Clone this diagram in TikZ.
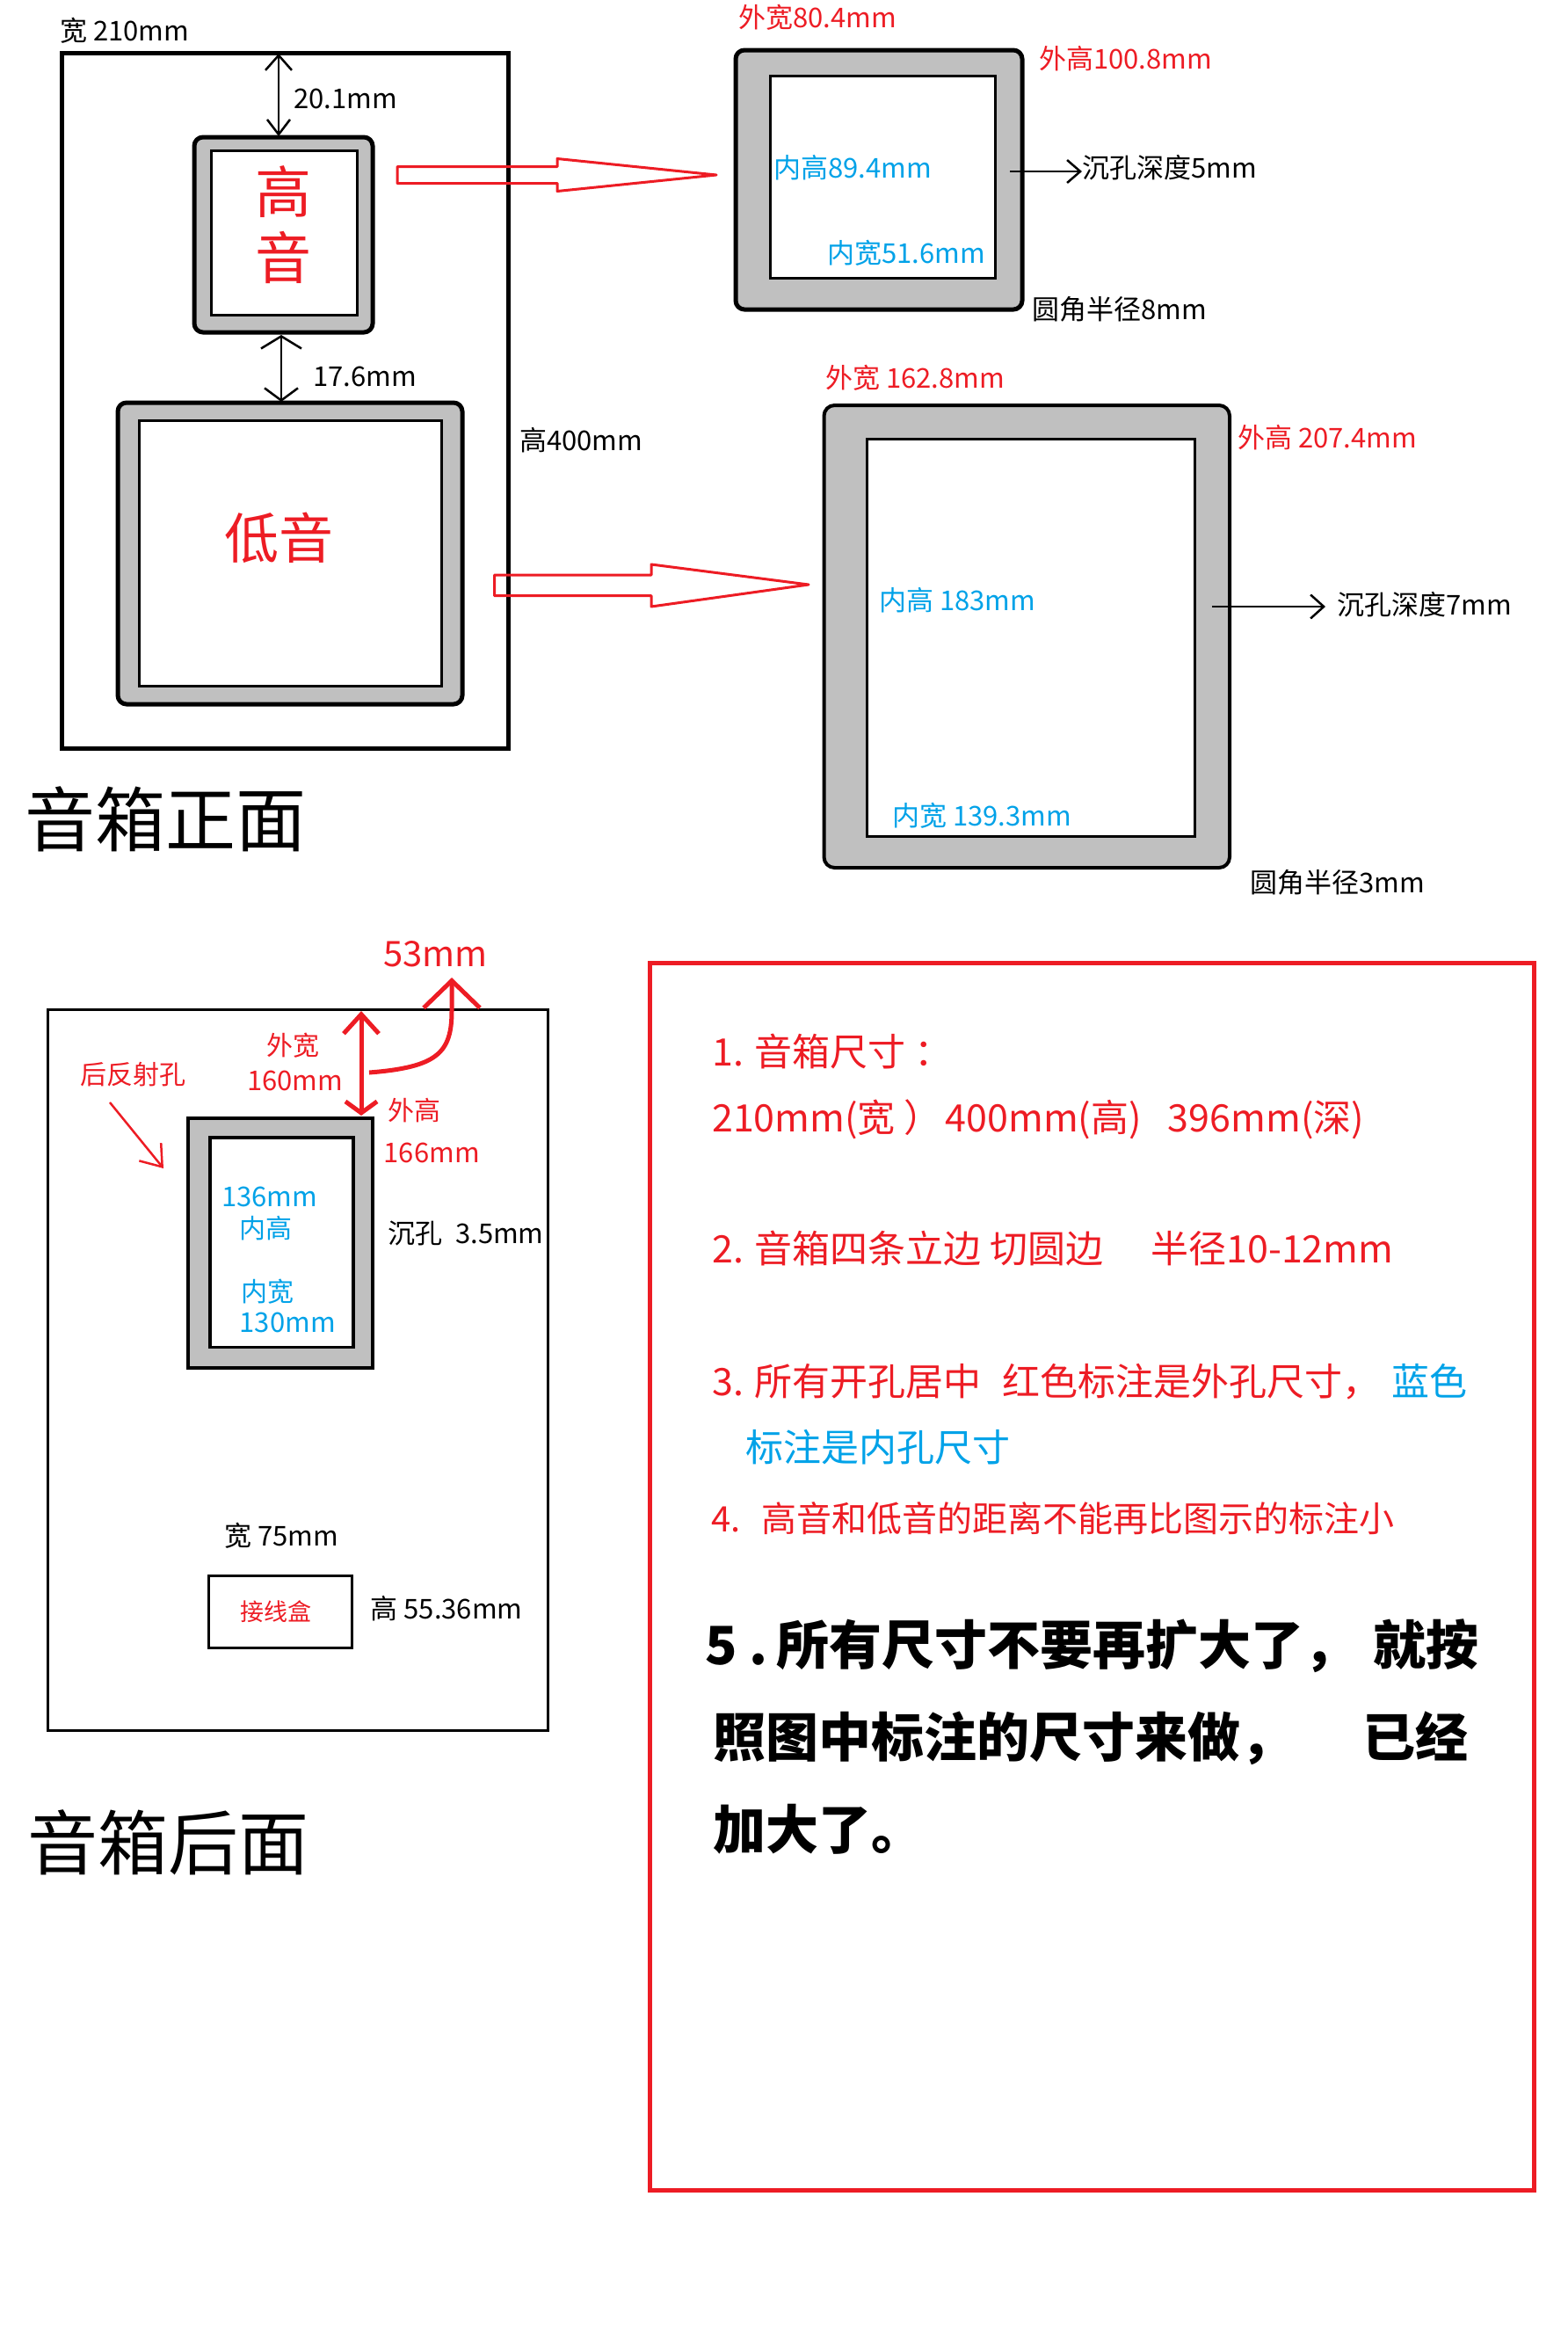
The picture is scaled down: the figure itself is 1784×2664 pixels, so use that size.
\documentclass[tikz,border=0pt]{standalone}
\usepackage{fontspec}
\setmainfont{Noto Sans CJK SC}
\usetikzlibrary{arrows.meta}
\definecolor{markred}{HTML}{ED1C24}
\definecolor{markblue}{HTML}{00A2E8}
\definecolor{plategray}{HTML}{C0C0C0}
\newcommand{\pxsize}[1]{\fontsize{#1}{\the\numexpr#1*19/10\relax}\selectfont}
\tikzset{
  txt/.style={inner sep=0pt,anchor=west,font=\pxsize{#1},execute at begin node=\strut},
  txt/.default=31,
  redtxt/.style={txt=#1,text=markred},
  redtxt/.default=31,
  bluetxt/.style={txt=#1,text=markblue},
  bluetxt/.default=31,
  panel/.style={draw,inner sep=0pt,line width=5pt},
  plate/.style={panel,fill=plategray,rounded corners=10pt},
  hole/.style={panel,fill=white,line width=3pt},
  dimline/.style={line width=2.5pt},
  blockarrow/.style={draw=markred,line width=3pt,line join=round},
}
\begin{document}
\begin{tikzpicture}[x=1pt,y=-1pt]
  \useasboundingbox (0,0) rectangle (1784,2664);

  \node[panel,minimum width=508.5pt,minimum height=791.5pt] (front) at (324.25,455.75) {};
  \node[plate,minimum width=203pt,minimum height=222pt] (tw) at (322.5,267) {};
  \node[hole,minimum width=166pt,minimum height=187.5pt] (twin) at (323,264.75) {};
  \node[plate,minimum width=392pt,minimum height=343pt] (wf) at (330,629.5) {};
  \node[hole,minimum width=343.5pt,minimum height=301.5pt] (wfin) at (330.25,629.25) {};

  \node[txt] (fw) at (68,34.5) {宽 210mm};
  \node[txt] (fh) at (591,501) {高400mm};
  \node[txt] (gap1) at (334,112) {20.1mm};
  \node[txt] (gap2) at (356,427.5) {17.6mm};
  \node[redtxt=64,anchor=center] (tw1) at (322.6,218) {高};
  \node[redtxt=64,anchor=center] (tw2) at (322.6,293.5) {音};
  \node[redtxt=62,anchor=center] (wfname) at (317,612) {低音};
  \node[txt=80] (fronttitle) at (28,932) {音箱正面};

  \coordinate (g1a) at (317,61);
  \coordinate (g1b) at (317,155);
  \coordinate (g2a) at (320,381);
  \coordinate (g2b) at (320,457);
  \draw[dimline,{Straight Barb[length=17pt,width=30pt]}-{Straight Barb[length=17pt,width=26pt]}] (g1a) -- (g1b);
  \draw[dimline,{Straight Barb[length=14pt,width=46pt]}-{Straight Barb[length=14pt,width=38pt]}] (g2a) -- (g2b);

  \draw[blockarrow] (452,189.5) -- (634,189.5) -- (634,180.5) -- (815,199) -- (634,217.5) -- (634,208.5) -- (452,208.5) -- cycle;
  \draw[blockarrow] (562.5,654) -- (741,654) -- (741,642) -- (920,665) -- (741,690) -- (741,677.5) -- (562.5,677.5) -- cycle;

  \node[plate,minimum width=326pt,minimum height=295pt] (tw3) at (1000,204.5) {};
  \node[hole,minimum width=256pt,minimum height=230pt] (tw3in) at (1004,201) {};
  \node[redtxt] (tw3w) at (840,19.5) {外宽80.4mm};
  \node[redtxt] (tw3h) at (1182,67) {外高100.8mm};
  \node[bluetxt] (tw3ih) at (880,191) {内高89.4mm};
  \node[bluetxt] (tw3iw) at (941,288) {内宽51.6mm};
  \node[txt] (tw3d) at (1231,191) {沉孔深度5mm};
  \node[txt] (tw3r) at (1174,351.5) {圆角半径8mm};
  \coordinate (tw3a) at (1149,195);
  \draw[dimline,-{Straight Barb[length=15pt,width=26pt]}] (tw3a) -- (tw3d.west |- tw3a);

  \node[plate,line width=4pt,minimum width=461.5pt,minimum height=526pt,rounded corners=12pt] (wf3) at (1168.25,724) {};
  \node[hole,minimum width=373pt,minimum height=452pt] (wf3in) at (1172.5,725) {};
  \node[redtxt] (wf3w) at (939,430) {外宽 162.8mm};
  \node[redtxt] (wf3h) at (1408,497.5) {外高 207.4mm};
  \node[bluetxt] (wf3ih) at (1000,683) {内高 183mm};
  \node[bluetxt] (wf3iw) at (1015,928) {内宽 139.3mm};
  \node[txt] (wf3d) at (1521,688) {沉孔深度7mm};
  \node[txt] (wf3r) at (1422,1004) {圆角半径3mm};
  \coordinate (wf3a) at (1379,690);
  \coordinate (wf3b) at (1508,690);
  \draw[dimline,-{Straight Barb[length=15pt,width=27pt]}] (wf3a) -- (wf3b);

  \node[panel,line width=3pt,minimum width=569.5pt,minimum height=820pt] (back) at (338.75,1558.5) {};
  \node[plate,rounded corners=0pt,line width=4pt,minimum width=210.5pt,minimum height=284.5pt] (port) at (318.75,1413.75) {};
  \node[hole,line width=3.5pt,minimum width=163pt,minimum height=238.6pt] (portin) at (320.5,1413.25) {};
  \node[panel,line width=3pt,minimum width=163pt,minimum height=82pt,text=markred,font=\pxsize{27}] (jbox) at (318.5,1833) {\hspace*{-10pt}接线盒};

  \node[redtxt=40] (depth) at (436,1084) {53mm};
  \node[redtxt=30] (portname) at (91,1222) {后反射孔};
  \node[redtxt=30] (pw1) at (303,1189) {外宽};
  \node[redtxt] (pw2) at (281,1229) {160mm};
  \node[redtxt=30] (ph1) at (441,1263.4) {外高};
  \node[redtxt] (ph2) at (436.5,1311) {166mm};
  \node[bluetxt] (ih1) at (252,1361) {136mm};
  \node[bluetxt=30] (ih2) at (272.5,1397) {内高};
  \node[bluetxt=30] (iw1) at (274,1469) {内宽};
  \node[bluetxt] (iw2) at (272.5,1504) {130mm};
  \node[txt] (pd) at (441,1403) {沉孔\hspace{15pt}3.5mm};
  \node[txt] (jw) at (255,1747) {宽 75mm};
  \node[txt] (jh) at (421.5,1830) {高 55.36mm};
  \node[txt=80] (backtitle) at (31,2096) {音箱后面};

  \coordinate (pa) at (411,1150);
  \coordinate (pb) at (411,1269);
  \coordinate (da) at (420,1220);
  \coordinate (db) at (514,1112);
  \coordinate (na) at (125,1254);
  \coordinate (nb) at (186,1329);
  \draw[markred,line width=5pt,{Straight Barb[length=22pt,width=40pt]}-{Straight Barb[length=13pt,width=36pt]}] (pa) -- (pb);
  \draw[markred,line width=5pt,-{Straight Barb[length=31pt,width=64pt]}] (da) .. controls (497,1214) and (514,1198) .. (514,1150) -- (db);
  \draw[markred,dimline,-{Straight Barb[length=22pt,width=32pt]}] (na) -- (nb);

  \node[panel,draw=markred,minimum width=1006pt,minimum height=1396pt] (notes) at (1242.5,1793.5) {};
  \node[redtxt=43] (n1) at (810,1196) {1. 音箱尺寸\hspace{10pt}：};
  \node[redtxt=43] (n1b) at (810,1271) {210mm(宽 ）\hspace{4pt}400mm(高)\hspace{30pt}396mm(深)};
  \node[redtxt=43] (n2) at (810,1420) {2. 音箱四条立边 切圆边\hspace{54pt}半径10-12mm};
  \node[redtxt=43] (n3) at (810,1571) {3. 所有开孔居中\hspace{24pt}红色标注是外孔尺寸，\hspace{13pt}\textcolor{markblue}{蓝色}};
  \node[bluetxt=43] (n3b) at (848,1646) {标注是内孔尺寸};
  \node[redtxt=40] (n4) at (809,1727) {4.\hspace{24pt}高音和低音的距离不能再比图示的标注小};
  \node[txt=60,font=\pxsize{60}\bfseries] (n5) at (802,1871) {5 .\hspace{-8pt} 所有尺寸不要再扩大了， \hspace{5pt}就按};
  \node[txt=60,font=\pxsize{60}\bfseries] (n5b) at (811,1976) {照图中标注的尺寸来做，\hspace{79pt}已经};
  \node[txt=60,font=\pxsize{60}\bfseries] (n5c) at (811,2081) {加大了。};
\end{tikzpicture}
\end{document}
